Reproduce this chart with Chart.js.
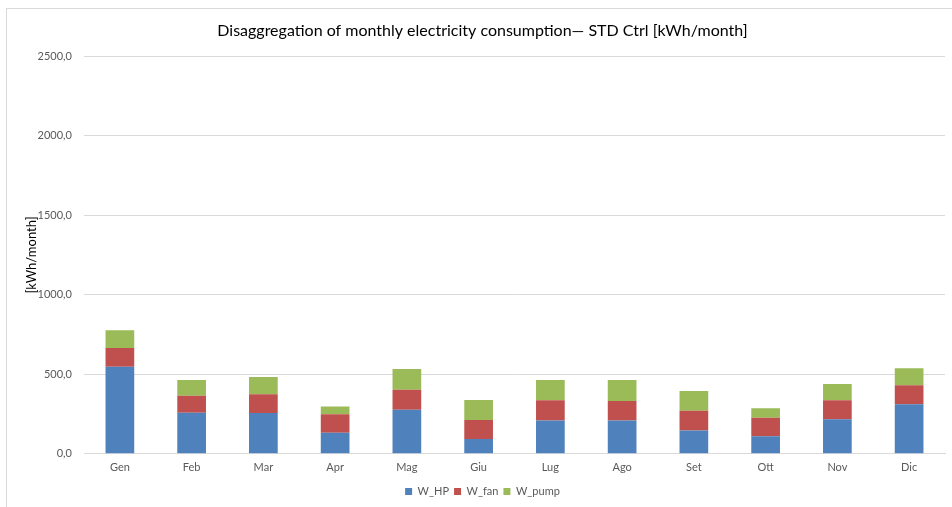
<!DOCTYPE html>
<html>
<head>
<meta charset="utf-8">
<script src="https://cdn.jsdelivr.net/npm/chart.js@4"></script>
<style>
  html, body { margin: 0; padding: 0; background: #fff; overflow: hidden; }
  #wrap { position: relative; width: 952px; height: 507px; }
  #frame { position: absolute; left: 6px; top: 8px; width: 1000px; height: 600px;
           border-left: 1px solid #d9d9d9; border-top: 1px solid #d9d9d9; }
  canvas { position: absolute; left: 0; top: 0; }
</style>
</head>
<body>
<div id="wrap">
  <div id="frame"></div>
  <canvas id="chart" width="952" height="507"></canvas>
</div>
<script>
// Monthly electricity consumption split by component [kWh/month]
const months = ['Gen', 'Feb', 'Mar', 'Apr', 'Mag', 'Giu', 'Lug', 'Ago', 'Set', 'Ott', 'Nov', 'Dic'];
const wHP   = [548, 258, 256, 132, 277,  93, 210, 210, 147, 110, 217, 311];
const wFan  = [118, 107, 118, 116, 126, 119, 126, 122, 124, 117, 119, 120];
const wPump = [111,  99, 109,  50, 130, 126, 128, 132, 124,  59, 103, 107];
const yTicks = [0, 500, 1000, 1500, 2000, 2500];

const FONT = 'Lato, "Open Sans", sans-serif';

new Chart(document.getElementById('chart'), {
  type: 'bar',
  data: {
    labels: months,
    datasets: [
      { label: 'W_HP',   data: wHP,   backgroundColor: '#4f81bd' },
      { label: 'W_fan',  data: wFan,  backgroundColor: '#c0504d' },
      { label: 'W_pump', data: wPump, backgroundColor: '#9bbb59' }
    ]
  },
  options: {
    responsive: false,
    animation: false,
    layout: { padding: { left: 20, right: 7, top: 0, bottom: 0 } },
    datasets: { bar: { categoryPercentage: 1.0, barPercentage: 0.4 } },
    plugins: {
      title: {
        display: true,
        text: 'Disaggregation of monthly electricity consumption\u2014 STD Ctrl [kWh/month]',
        color: '#000',
        font: { family: FONT, size: 16, weight: 'normal' },
        padding: { top: 21, bottom: 16 }
      },
      legend: {
        position: 'bottom',
        labels: {
          color: '#595959',
          font: { family: FONT, size: 11 },
          boxWidth: 7, boxHeight: 7,
          padding: 5
        }
      },
      tooltip: { enabled: false }
    },
    scales: {
      x: {
        stacked: true,
        grid: { display: false, drawTicks: false },
        border: { color: '#d9d9d9' },
        ticks: { color: '#595959', font: { family: FONT, size: 11 }, padding: 7 }
      },
      y: {
        stacked: true,
        min: 0, max: 2500,
        afterBuildTicks: (s) => { s.ticks = yTicks.map(v => ({ value: v })); },
        afterFit: (s) => { s.width = 64; },
        grid: { color: '#d9d9d9', drawTicks: true, tickLength: 8, tickColor: '#fff' },
        border: { display: false },
        ticks: {
          color: '#595959', font: { family: FONT, size: 11 }, padding: 4,
          callback: (v) => Number(v).toFixed(1).replace('.', ',')
        },
        title: {
          display: true, text: '[kWh/month]', color: '#000',
          font: { family: FONT, size: 13 }
        }
      }
    }
  }
});
</script>
</body>
</html>
